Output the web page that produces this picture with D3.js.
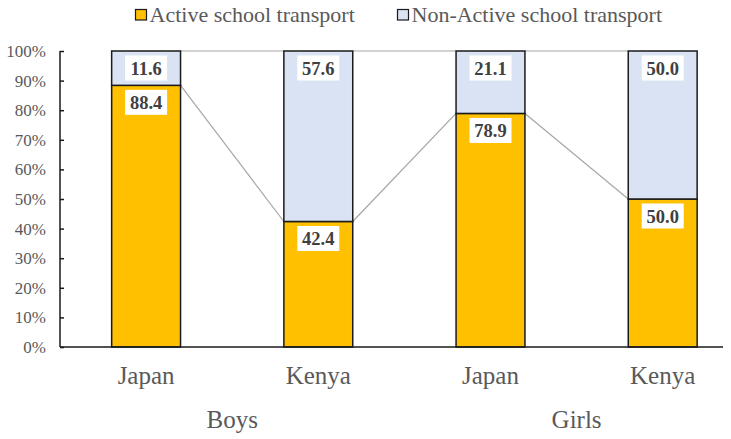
<!DOCTYPE html>
<html><head><meta charset="utf-8">
<script src="https://cdn.jsdelivr.net/npm/d3@7"></script>
<style>body{margin:0;background:#fff}svg{display:block}
svg text{font-family:"Liberation Serif","Times New Roman",Times,"DejaVu Serif",serif;}</style>
</head><body>
<script>
const categories = ["Japan","Kenya","Japan","Kenya"];
const groups = ["Boys","Girls"];
const seriesNames = ["Active school transport","Non-Active school transport"];
const activeVals = [88.4, 42.4, 78.9, 50.0];
const nonActiveVals = [11.6, 57.6, 21.1, 50.0];
const yTicks = [0,10,20,30,40,50,60,70,80,90,100];
const colors = ["#FFC000","#DAE3F3"];

const W=731,H=439;
const svg=d3.select("body").append("svg").attr("width",W).attr("height",H);

const x=d3.scaleBand().domain(d3.range(categories.length)).range([60,60+4*172.2]).paddingInner(0.6).paddingOuter(0.3);
const y=d3.scaleLinear().domain([0,100]).range([347,51]);

const stack = categories.map((c,i)=>({i, segs:[
  {s:0,y0:0,y1:activeVals[i],v:activeVals[i]},
  {s:1,y0:activeVals[i],y1:activeVals[i]+nonActiveVals[i],v:nonActiveVals[i]}]}));

// connector lines
for(let s=0;s<2;s++){
  for(let i=0;i<categories.length-1;i++){
    const a=stack[i].segs[s].y1, b=stack[i+1].segs[s].y1;
    svg.append("line").attr("x1",x(i)+x.bandwidth()).attr("y1",y(a))
      .attr("x2",x(i+1)).attr("y2",y(b)).attr("stroke","#A6A6A6").attr("stroke-width",1.2);
  }
}

// bars
stack.forEach(d=>{
  d.segs.forEach(sg=>{
    svg.append("rect").attr("x",x(d.i)).attr("width",x.bandwidth())
      .attr("y",y(sg.y1)).attr("height",y(sg.y0)-y(sg.y1))
      .attr("fill",colors[sg.s]).attr("stroke","#1a1a1a").attr("stroke-width",1.5);
  });
});

// labels
stack.forEach(d=>{
  d.segs.forEach(sg=>{
    const cx=x(d.i)+x.bandwidth()/2, cy=y(sg.y1)+17;
    svg.append("rect").attr("x",cx-21).attr("y",cy-12.5).attr("width",42).attr("height",25).attr("fill","#fff");
    svg.append("text").attr("x",cx).attr("y",cy+6.5).attr("text-anchor","middle")
      .attr("font-weight","bold")
      .attr("font-size",18.5).attr("fill","#404040").text(sg.v.toFixed(1));
  });
});

// y axis
const yAxis=d3.axisLeft(y).tickValues(yTicks).tickFormat(d=>d+"%").tickSize(-4).tickPadding(14);
const ga=svg.append("g").attr("transform","translate(60,0)").call(yAxis);
ga.attr("font-family",null);
ga.select(".domain").attr("stroke","#1a1a1a").attr("stroke-width",1.5).attr("d","M0,51V347");
ga.selectAll(".tick line").attr("stroke","#1a1a1a").attr("stroke-width",1.5);
ga.selectAll(".tick text").attr("font-size",17).attr("fill","#595959");

// x axis line
svg.append("line").attr("x1",60).attr("x2",723).attr("y1",347).attr("y2",347).attr("stroke","#1a1a1a").attr("stroke-width",1.5);

// category labels
categories.forEach((c,i)=>{
  svg.append("text").attr("x",x(i)+x.bandwidth()/2).attr("y",383.5).attr("text-anchor","middle")
    .attr("font-size",25).attr("fill","#595959").text(c);
});
groups.forEach((g,k)=>{
  const cx=(x(2*k)+x(2*k+1)+x.bandwidth())/2;
  svg.append("text").attr("x",cx).attr("y",428).attr("text-anchor","middle")
    .attr("font-size",25).attr("fill","#595959").text(g);
});

// legend
const legX=[135.5,397.5];
seriesNames.forEach((n,k)=>{
  svg.append("rect").attr("x",legX[k]).attr("y",9.5).attr("width",11).attr("height",10.5)
    .attr("fill",colors[k]).attr("stroke","#1a1a1a").attr("stroke-width",1.2);
  svg.append("text").attr("x",legX[k]+14).attr("y",22)
    .attr("font-size",22).attr("fill","#595959").text(n);
});
</script>
</body></html>
